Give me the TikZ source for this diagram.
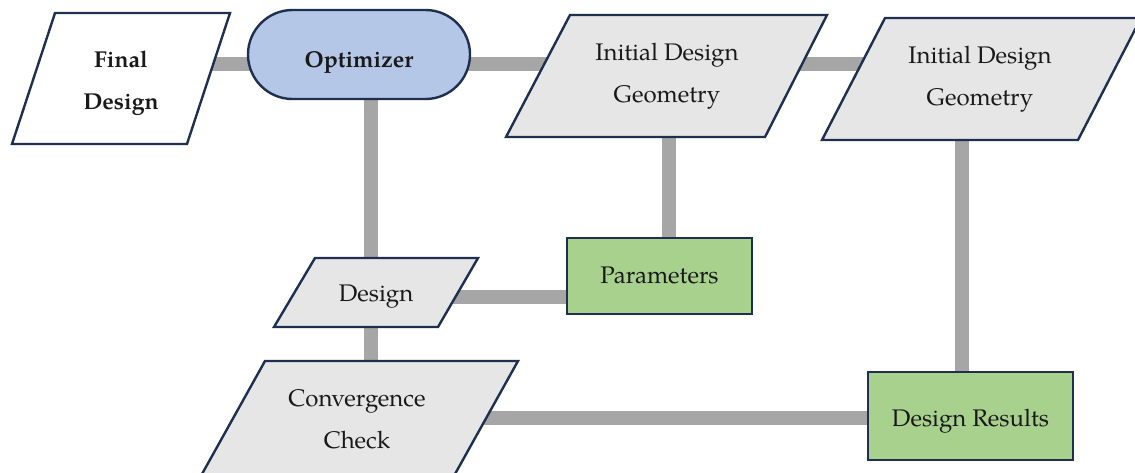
\documentclass[tikz,border=0pt]{standalone}
\usepackage{fontspec}
\setmainfont{texgyrepagella}[Extension=.otf, UprightFont=*-regular, BoldFont=*-bold, ItalicFont=*-italic, BoldItalicFont=*-bolditalic]
\usetikzlibrary{backgrounds}
\definecolor{navy}{HTML}{1F2F4F}
\definecolor{conngray}{HTML}{A6A6A6}
\definecolor{boxgray}{HTML}{E7E6E6}
\definecolor{optblue}{HTML}{B4C7E7}
\definecolor{boxgreen}{HTML}{A9D18E}
\tikzset{
  shapeline/.style={draw=navy, line width=2.4pt, line join=miter},
  conn/.style={draw=conngray, line width=14pt},
  label/.style={inner sep=0pt, align=center, text=black!90, font=\fontsize{24}{42}\selectfont},
  boldlabel/.style={label, font=\fontsize{23}{42}\selectfont\bfseries},
}
\begin{document}
\begin{tikzpicture}[x=1pt,y=-1pt]
\useasboundingbox (0,0) rectangle (1135,472);
\clip (0,0) rectangle (1135,472);
% lane coordinates
\coordinate (lane1) at (0,64);
\coordinate (laneA) at (371,0);
\coordinate (laneB) at (669,0);
\coordinate (laneC) at (962,0);
\coordinate (laneD) at (0,418);
% text nodes
\node[boldlabel] (fd) at (121,83) {Final\\Design};
\node[boldlabel] (opt) at (359,62) {Optimizer};
\node[label] (idg1) at (667,76) {Initial Design\\Geometry};
\node[label] (idg2) at (980,79) {Initial Design\\Geometry};
\node[label] (des) at (376,297) {Design};
\node[label] (par) at (659.5,275) {Parameters};
\node[label] (conv) at (357,419) {Convergence\\Check};
\node[label] (dres) at (970.5,421) {Design Results};
% connectors (behind shapes)
\begin{scope}[on background layer]
\draw[conn] (fd |- lane1) -- (opt |- lane1) -- (idg1 |- lane1) -- (idg2 |- lane1);
\draw[conn] (opt -| laneA) -- (des -| laneA) -- (conv -| laneA);
\draw[conn] (idg1 -| laneB) -- (par -| laneB);
\draw[conn] (des) -- (par.center |- des.center);
\draw[conn] (idg2 -| laneC) -- (dres -| laneC);
\draw[conn] (conv |- laneD) -- (dres |- laneD);
\end{scope}
% shapes
\begin{scope}[on background layer]
\path[shapeline, fill=white] (55,13) -- (230,13) -- (187,144) -- (12,144) -- cycle;
\path[shapeline, fill=optblue, rounded corners=44.5pt] (248,10) rectangle (470,99);
\path[shapeline, fill=boxgray] (570,15) -- (827,15) -- (765,137) -- (506,137) -- cycle;
\path[shapeline, fill=boxgray] (885,18) -- (1141,18) -- (1078,140) -- (822,140) -- cycle;
\path[shapeline, fill=boxgray] (315,258) -- (478,258) -- (438,327) -- (274,327) -- cycle;
\path[shapeline, fill=boxgreen] (567,238) rectangle (752,314);
\path[shapeline, fill=boxgray] (265,361) -- (518,361) -- (450,483) -- (197,483) -- cycle;
\path[shapeline, fill=boxgreen] (868,372) rectangle (1073,460);
\end{scope}
\end{tikzpicture}
\end{document}
